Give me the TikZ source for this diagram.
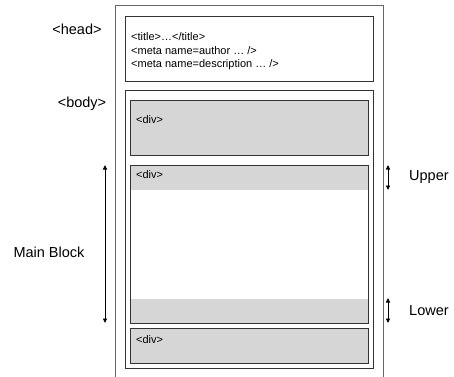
\documentclass[tikz,border=0pt]{standalone}
\usepackage{fontspec}
\setmainfont{Liberation Sans}
\usetikzlibrary{arrows.meta}
\definecolor{divgray}{HTML}{D6D6D6}
\definecolor{edgegray}{HTML}{333333}
\definecolor{pagegray}{HTML}{666666}
\begin{document}
\begin{tikzpicture}[x=1pt,y=-1pt,
  frame/.style={draw=edgegray, line width=0.8pt, rectangle, inner sep=0pt, anchor=north west},
  divbox/.style={frame, fill=divgray},
  tag/.style={font=\fontsize{14.5}{16}\selectfont, inner sep=0pt},
  small/.style={font=\fontsize{11}{13.5}\selectfont, inner sep=0pt, anchor=west},
  dim/.style={{Triangle[length=4.5pt,width=4pt]}-{Triangle[length=4.5pt,width=4pt]}, line width=0.9pt, black}]
\useasboundingbox (0,0) rectangle (454,376);

% page outline, open at the bottom
\draw[pagegray, line width=0.8pt] (115,377) -- (115,5.5) -- (383,5.5) -- (383,377);

% head section
\node[frame, minimum width=248pt, minimum height=65pt] (head) at (125,15.5) {};
\node[small, anchor=north west, align=left] (headtext) at (131,32.5)
  {<title>…</title>\\<meta name=author … />\\<meta name=description … />};

% body section
\node[frame, minimum width=248pt, minimum height=278pt] (body) at (125,90) {};
\node[divbox, minimum width=238pt, minimum height=55pt] (div1) at (130,100) {};
\node[small] (div1label) at (136,120) {<div>};

% main block with shaded upper and lower bands
\node[frame, minimum width=238pt, minimum height=158pt] (main) at (130,165) {};
\fill[divgray] (main.north west) rectangle ([yshift=-25pt]main.north east);
\fill[divgray] ([yshift=25pt]main.south west) rectangle (main.south east);
\node[frame, minimum width=238pt, minimum height=158pt] at (130,165) {};
\node[small] (div2label) at (136,175) {<div>};

\node[divbox, minimum width=238pt, minimum height=35pt] (div3) at (130,328) {};
\node[small] (div3label) at (136,340) {<div>};

% labels on the left
\node[tag] (headlabel) at (77,29) {<head>};
\node[tag] (bodylabel) at (82,104) {<body>};
\node[tag] (mainlabel) at (49,252) {Main Block};

% dimension arrows
\coordinate (mtop) at (105,165);
\coordinate (mbot) at (105,323);
\draw[dim] (mtop) -- (mbot);

\coordinate (utop) at (388,165);
\coordinate (ubot) at (388,190);
\draw[dim] (utop) -- (ubot);
\node[tag, anchor=west] (upper) at (409,177) {Upper};

\coordinate (ltop) at (388,298);
\coordinate (lbot) at (388,323);
\draw[dim] (ltop) -- (lbot);
\node[tag, anchor=west] (lower) at (409,311) {Lower};
\end{tikzpicture}
\end{document}
